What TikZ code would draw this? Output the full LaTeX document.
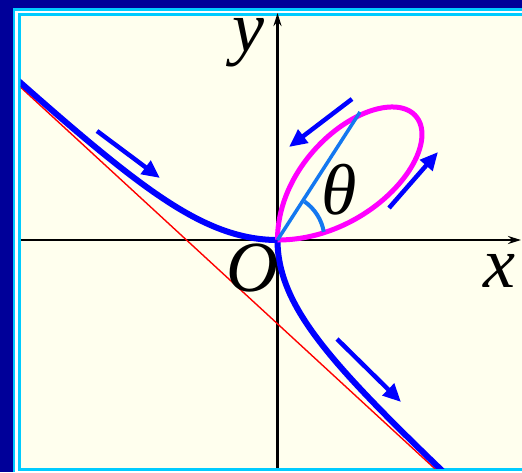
\documentclass[tikz,border=0pt]{standalone}
\usepackage{fontspec}
\setmainfont{Liberation Serif}
\usetikzlibrary{arrows.meta}
\definecolor{navyb}{RGB}{0,0,153}
\definecolor{cyanb}{RGB}{0,204,255}
\definecolor{paper}{RGB}{255,255,238}
\definecolor{curveblue}{RGB}{0,0,255}
\definecolor{loopmag}{RGB}{255,0,255}
\definecolor{thetablue}{RGB}{20,120,240}
\begin{document}
\begin{tikzpicture}[x=1pt,y=-1pt,
  axis/.style={line width=2.4pt, black, -{Stealth[length=13pt,width=8pt]}},
  branch/.style={line width=6pt, curveblue, line join=round},
  loopc/.style={line width=5pt, loopmag, line join=round},
  asym/.style={line width=1.4pt, red},
  motion/.style={line width=4.5pt, curveblue, -{Triangle[length=18pt,width=16pt]}},
  lbl/.style={inner sep=0pt, anchor=base, font=\fontsize{72}{72}\selectfont\itshape},
  polar/.style={line width=3.5pt, thetablue}]
\useasboundingbox (0,0) rectangle (522,472);
% frame
\fill[navyb] (0,0) rectangle (522,472);
\fill[cyanb] (13,8) rectangle (522,472);
\fill[white] (15,10.5) rectangle (522,472);
\fill[cyanb] (17.5,12.5) rectangle (522,471);
\fill[paper] (20.5,15.5) rectangle (522,468);
% named points
\coordinate (O) at (277.5,240);
\coordinate (xs) at (20.5,240);
\coordinate (xe) at (521,240);
\coordinate (ys) at (277.5,468);
\coordinate (ye) at (277.5,13);
\coordinate (P) at (360,112);
% axes
\draw[axis] (xs) -- (xe);
\draw[axis] (ys) -- (ye);
% curves
\begin{scope}
\clip (20.5,15.5) rectangle (522,468);
\begin{scope}[shift={(277.5pt,-240pt)}, x=91pt, y=83.8pt]
\draw[asym] (-3.4,2.4) -- (2.4,-3.4);
\draw[branch] plot[domain=-0.72:0, samples=160, variable=\t]
  ({3*\t/(1+\t*\t*\t)}, {3*\t*\t/(1+\t*\t*\t)});
\draw[branch] plot[domain=-0.72:0, samples=160, variable=\t]
  ({3*\t*\t/(1+\t*\t*\t)}, {3*\t/(1+\t*\t*\t)});
\draw[loopc] plot[domain=0:1, samples=100, variable=\t]
  ({3*\t/(1+\t*\t*\t)}, {3*\t*\t/(1+\t*\t*\t)})
  -- plot[domain=1:0, samples=100, variable=\t]
  ({3*\t*\t/(1+\t*\t*\t)}, {3*\t/(1+\t*\t*\t)});
\end{scope}
\end{scope}
% polar angle
\draw[polar] (O) -- (P);
\begin{scope}[shift={(277.5pt,-240pt)}, x=1pt, y=1pt]
\draw[polar, line width=4pt] (10:47) arc[start angle=10, end angle=55, radius=47];
\end{scope}
% motion arrows
\coordinate (a1s) at (97,131);  \coordinate (a1e) at (160,178);
\coordinate (a2s) at (352,99);  \coordinate (a2e) at (289,147);
\coordinate (a3s) at (389,208); \coordinate (a3e) at (438,152);
\coordinate (a4s) at (337,339); \coordinate (a4e) at (401,402);
\draw[motion] (a1s) -- (a1e);
\draw[motion] (a2s) -- (a2e);
\draw[motion] (a3s) -- (a3e);
\draw[motion] (a4s) -- (a4e);
% labels
\node[lbl] (ly) at (248,51) {y};
\node[lbl] (lO) at (252,291) {O};
\node[lbl] (lx) at (499,287) {x};
\node[lbl] (lt) at (339,214) {θ};
\end{tikzpicture}
\end{document}
